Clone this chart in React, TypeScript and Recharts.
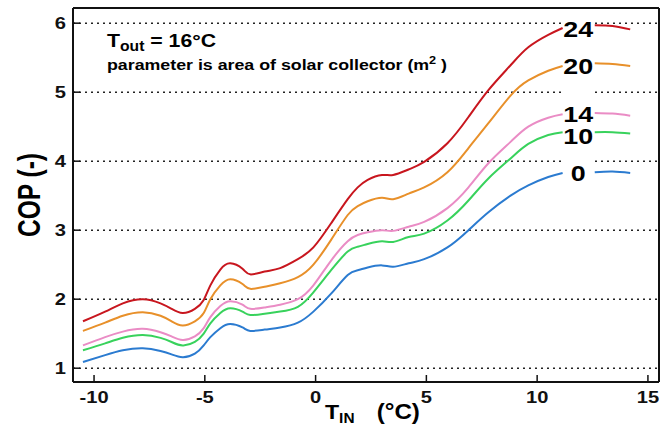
import React from "react";
import { LineChart, Line, XAxis, YAxis, CartesianGrid, ReferenceArea, ReferenceDot } from "recharts";

// T_IN (°C) sample points, null row = gap behind the curve labels
const tIn = [-10.5, -9.5, -8.7, -7.8, -7.0, -6.5, -6.0, -5.45, -5.05, -4.75, -4.3, -3.85, -3.3, -2.95, -2.3, -1.6, -0.8, -0.1, 0.7, 1.45, 1.9, 2.35, 3.0, 3.5, 4.2, 4.9, 5.95, 6.9, 7.8, 8.8, 9.6, 10.5, 11.15, 11.9, 12.6, 13.4, 14.2];

const cop0 = [1.09, 1.19, 1.26, 1.29, 1.25, 1.2, 1.16, 1.21, 1.33, 1.45, 1.58, 1.64, 1.59, 1.54, 1.56, 1.59, 1.66, 1.82, 2.08, 2.35, 2.42, 2.46, 2.49, 2.47, 2.52, 2.58, 2.75, 3.0, 3.26, 3.5, 3.65, 3.77, 3.83, null, 3.84, 3.85, 3.83];
const cop10 = [1.26, 1.36, 1.44, 1.48, 1.44, 1.38, 1.33, 1.38, 1.5, 1.65, 1.8, 1.87, 1.82, 1.77, 1.79, 1.82, 1.89, 2.1, 2.42, 2.69, 2.76, 2.8, 2.84, 2.83, 2.9, 2.95, 3.14, 3.43, 3.75, 4.04, 4.25, 4.38, 4.42, null, 4.42, 4.42, 4.4];
const cop14 = [1.33, 1.45, 1.53, 1.57, 1.52, 1.46, 1.41, 1.46, 1.58, 1.74, 1.9, 1.97, 1.92, 1.86, 1.88, 1.92, 2.0, 2.2, 2.56, 2.84, 2.93, 2.97, 3.0, 2.99, 3.05, 3.12, 3.32, 3.62, 3.97, 4.28, 4.5, 4.63, 4.68, null, 4.7, 4.69, 4.66];
const cop20 = [1.54, 1.66, 1.76, 1.81, 1.76, 1.68, 1.62, 1.68, 1.8, 2.0, 2.2, 2.29, 2.22, 2.15, 2.18, 2.23, 2.32, 2.5, 2.86, 3.22, 3.35, 3.42, 3.47, 3.45, 3.53, 3.62, 3.84, 4.19, 4.55, 4.95, 5.17, 5.31, 5.38, null, 5.42, 5.41, 5.38];
const cop24 = [1.68, 1.82, 1.94, 2.0, 1.94, 1.86, 1.8, 1.86, 1.99, 2.2, 2.43, 2.52, 2.44, 2.36, 2.4, 2.45, 2.58, 2.75, 3.1, 3.45, 3.62, 3.73, 3.8, 3.8, 3.88, 3.99, 4.26, 4.64, 5.03, 5.39, 5.65, 5.83, 5.93, null, 5.97, 5.96, 5.91];

const areas = ["24", "20", "14", "10", "0"];
const areaLabelY = [5.91, 5.38, 4.68, 4.36, 3.83];
const areaLabelX = 11.85;

const xTicks = [-10, -5, 0, 5, 10, 15];
const yTicks = [1, 2, 3, 4, 5, 6];

const series = [
  { key: "a24", values: cop24, color: "#c8161e" },
  { key: "a20", values: cop20, color: "#e8902a" },
  { key: "a14", values: cop14, color: "#ea8cc5" },
  { key: "a10", values: cop10, color: "#38d25c" },
  { key: "a0", values: cop0, color: "#2b7bd0" },
];

const data = tIn.map((t, i) => {
  const row: any = { t };
  series.forEach((s) => (row[s.key] = s.values[i]));
  return row;
});

const font = "Arial, 'Liberation Sans', sans-serif";
const frame = { stroke: "#111", strokeWidth: 2 };
const tickLn = { stroke: "#111", strokeWidth: 1.5 };

const XTick = (props: any) => {
  const { x, y, payload } = props;
  return (
    <text transform={`translate(${x},${y}) scale(1.22,1)`} textAnchor="middle" dy="0.71em"
      fontSize={16.5} fontWeight="bold" fill="#111" fontFamily={font}>
      {payload.value}
    </text>
  );
};

const YTick = (props: any) => {
  const { x, y, payload } = props;
  return (
    <text transform={`translate(${x},${y}) scale(1.22,1)`} textAnchor="end" dy="0.355em"
      fontSize={16.5} fontWeight="bold" fill="#111" fontFamily={font}>
      {payload.value}
    </text>
  );
};

const App = () => {
  return (
    <div style={{ position: "absolute", left: 0, top: 0, width: 670, height: 428, background: "#fff" }}>
      <LineChart width={670} height={428} data={data} margin={{ top: 0, right: 0, bottom: 0, left: 0 }}>
        <CartesianGrid vertical={false} stroke="#222" strokeWidth={1.5} strokeDasharray="2 4" />
        <XAxis dataKey="t" type="number" domain={[-10.95, 15.5]} ticks={xTicks} allowDataOverflow
          height={46} tickSize={-7} tickMargin={16} tick={<XTick />} axisLine={frame} tickLine={tickLn} />
        <XAxis xAxisId="top" orientation="top" type="number" domain={[-10.95, 15.5]} ticks={xTicks} allowDataOverflow
          height={8} tickSize={-7} tick={false} axisLine={frame} tickLine={tickLn} />
        <YAxis type="number" domain={[0.8, 6.22]} ticks={yTicks} allowDataOverflow
          width={73} tickSize={-7} tickMargin={14} tick={<YTick />} axisLine={frame} tickLine={tickLn} />
        <YAxis yAxisId="right" orientation="right" type="number" domain={[0.8, 6.22]} ticks={yTicks} allowDataOverflow
          width={11} tickSize={-7} tick={false} axisLine={frame} tickLine={tickLn} />
        <ReferenceArea x1={11.15} x2={12.6} y1={3.68} y2={6.1} fill="#fff" fillOpacity={1} stroke="none" />
        {series.map((s) => (
          <Line key={s.key} dataKey={s.key} type="natural" stroke={s.color} strokeWidth={2}
            dot={false} activeDot={false} isAnimationActive={false} />
        ))}
        {areas.map((a, i) => (
          <ReferenceDot key={a} x={areaLabelX} y={areaLabelY[i]} r={1}
            shape={(p: any) => (
              <text transform={`translate(${p.cx},${p.cy}) scale(1.22,1)`} textAnchor="middle" dy="0.36em"
                fontSize={22} fontWeight="bold" fill="#000" fontFamily={font}>
                {a}
              </text>
            )} />
        ))}
      </LineChart>
      <svg width={670} height={428} style={{ position: "absolute", left: 0, top: 0, pointerEvents: "none" }}>
        <g fontFamily={font} fontWeight="bold" fill="#000">
          <text transform="translate(107,47) scale(1.12,1)" fontSize={19}>
            T<tspan fontSize={14} dy={4}>out</tspan><tspan fontSize={19} dy={-4}> = 16°C</tspan>
          </text>
          <text transform="translate(107,70) scale(1.27,1)" fontSize={14}>
            parameter is area of solar collector (m<tspan fontSize={10} dy={-6}>2</tspan><tspan dy={6}> )</tspan>
          </text>
          <text transform="translate(29,195) scale(1.25,1) rotate(-90)" textAnchor="middle" dy="0.35em" fontSize={24.5}>
            COP (-)
          </text>
          <text transform="translate(325,419) scale(1.1,1)" fontSize={21}>
            T<tspan fontSize={14} dy={4}>IN</tspan><tspan fontSize={22} dy={-4} x={47}>(°C)</tspan>
          </text>
        </g>
      </svg>
    </div>
  );
};

export default App;
